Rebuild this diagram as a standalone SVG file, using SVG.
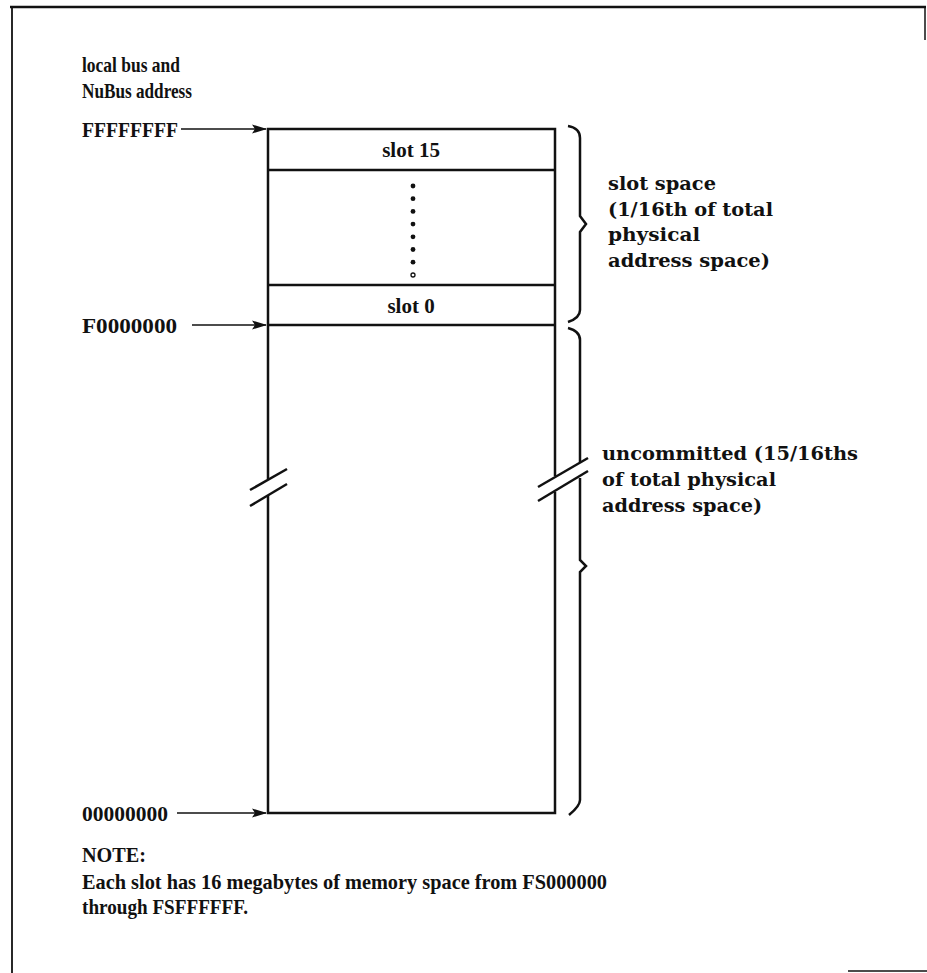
<svg xmlns="http://www.w3.org/2000/svg" width="927" height="973" viewBox="0 0 927 973">
<style>
  .lt { font-family: "Liberation Serif", "DejaVu Serif", serif; font-weight: bold; font-size: 21px; fill: #111; }
  .st { font-family: "Liberation Serif", "DejaVu Serif", serif; font-weight: bold; font-size: 21px; fill: #111; }
  .rt { font-family: "DejaVu Serif", "Liberation Serif", serif; font-weight: bold; font-size: 19px; fill: #111; }
  .ln { stroke: #111; stroke-width: 2.5; fill: none; }
  .frame { stroke: #111; fill: none; }
</style>
<defs>
  <marker id="ah" markerWidth="15" markerHeight="10" refX="14" refY="5" orient="auto" markerUnits="userSpaceOnUse">
    <path d="M0,0.5 L15,5 L0,9.5 L3,5 Z" fill="#111"/>
  </marker>
</defs>
<rect width="927" height="973" fill="#fff"/>
<g id="frame">
  <line class="frame" x1="10" y1="7" x2="926" y2="7" stroke-width="2.5"/>
  <line class="frame" x1="12" y1="6" x2="12" y2="973" stroke-width="1.8"/>
  <line class="frame" x1="925" y1="6" x2="925" y2="40" stroke-width="1.5"/>
  <line class="frame" x1="848" y1="971" x2="927" y2="971" stroke-width="1.5" stroke="#666"/>
</g>
<g id="title">
  <text class="lt" x="82" y="72" textLength="98" lengthAdjust="spacingAndGlyphs">local bus and</text>
  <text class="lt" x="82" y="98" textLength="110" lengthAdjust="spacingAndGlyphs">NuBus address</text>
</g>
<g id="memory-map">
  <path class="ln" d="M268,129 H555 V813 H268 Z"/>
  <line class="ln" x1="268" y1="170" x2="555" y2="170"/>
  <line class="ln" x1="268" y1="285" x2="555" y2="285"/>
  <line class="ln" x1="268" y1="325" x2="555" y2="325"/>
  <text class="st" x="411" y="157" text-anchor="middle">slot 15</text>
  <text class="st" x="411" y="313" text-anchor="middle">slot 0</text>
  <g fill="#111">
    <circle cx="413" cy="186" r="2.4"/>
    <circle cx="413" cy="198.7" r="2.4"/>
    <circle cx="413" cy="211.4" r="2.4"/>
    <circle cx="413" cy="224.1" r="2.4"/>
    <circle cx="413" cy="236.8" r="2.4"/>
    <circle cx="413" cy="249.5" r="2.4"/>
    <circle cx="413" cy="262.2" r="2.4"/>
    <circle cx="413" cy="275" r="2" fill="#fff" stroke="#111" stroke-width="1.3"/>
  </g>
  <rect x="264" y="479" width="8" height="16" fill="#fff"/>
  <rect x="551" y="476" width="8" height="16" fill="#fff"/>
  <rect x="575" y="463" width="9" height="15" fill="#fff"/>
  <line class="ln" x1="250" y1="490" x2="287" y2="469"/>
  <line class="ln" x1="250" y1="506" x2="287" y2="484"/>
  <line class="ln" x1="538" y1="487" x2="588" y2="458"/>
  <line class="ln" x1="538" y1="501" x2="588" y2="471"/>
</g>
<g id="addr-ffffffff">
  <text class="lt" x="82" y="137" textLength="96" lengthAdjust="spacingAndGlyphs">FFFFFFFF</text>
</g>
<g id="addr-f0000000">
  <text class="lt" x="82" y="333" textLength="95" lengthAdjust="spacingAndGlyphs">F0000000</text>
</g>
<g id="addr-00000000">
  <text class="lt" x="82" y="821" textLength="86" lengthAdjust="spacingAndGlyphs">00000000</text>
</g>
<g id="connectors">
  <line x1="181" y1="129" x2="266" y2="129" stroke="#111" stroke-width="1.7" marker-end="url(#ah)"/>
  <line x1="192" y1="325" x2="266" y2="325" stroke="#111" stroke-width="1.7" marker-end="url(#ah)"/>
  <line x1="177" y1="813" x2="266" y2="813" stroke="#111" stroke-width="1.7" marker-end="url(#ah)"/>
</g>
<g id="slot-space">
  <path class="ln" d="M568,126 Q580,128 580,138 V216 L586,224 L580,232 V310 Q580,318 568,322"/>
  <text class="rt" x="608" y="190" textLength="108" lengthAdjust="spacingAndGlyphs">slot space</text>
  <text class="rt" x="608" y="216" textLength="165" lengthAdjust="spacingAndGlyphs">(1/16th of total</text>
  <text class="rt" x="608" y="241" textLength="92" lengthAdjust="spacingAndGlyphs">physical</text>
  <text class="rt" x="608" y="267" textLength="162" lengthAdjust="spacingAndGlyphs">address space)</text>
</g>
<g id="uncommitted">
  <path class="ln" d="M568,328 Q580,331 580,340 V462 M580,478 V560 L586,566 L580,572 V800 Q580,806 569,815"/>
  <text class="rt" x="602" y="460" textLength="256" lengthAdjust="spacingAndGlyphs">uncommitted (15/16ths</text>
  <text class="rt" x="602" y="486" textLength="174" lengthAdjust="spacingAndGlyphs">of total physical</text>
  <text class="rt" x="602" y="512" textLength="160" lengthAdjust="spacingAndGlyphs">address space)</text>
</g>
<g id="note">
  <text class="lt" x="82" y="862" textLength="64" lengthAdjust="spacingAndGlyphs">NOTE:</text>
  <text class="lt" x="82" y="889" textLength="525" lengthAdjust="spacingAndGlyphs">Each slot has 16 megabytes of memory space from FS000000</text>
  <text class="lt" x="82" y="914" textLength="166" lengthAdjust="spacingAndGlyphs">through FSFFFFFF.</text>
</g>
</svg>
